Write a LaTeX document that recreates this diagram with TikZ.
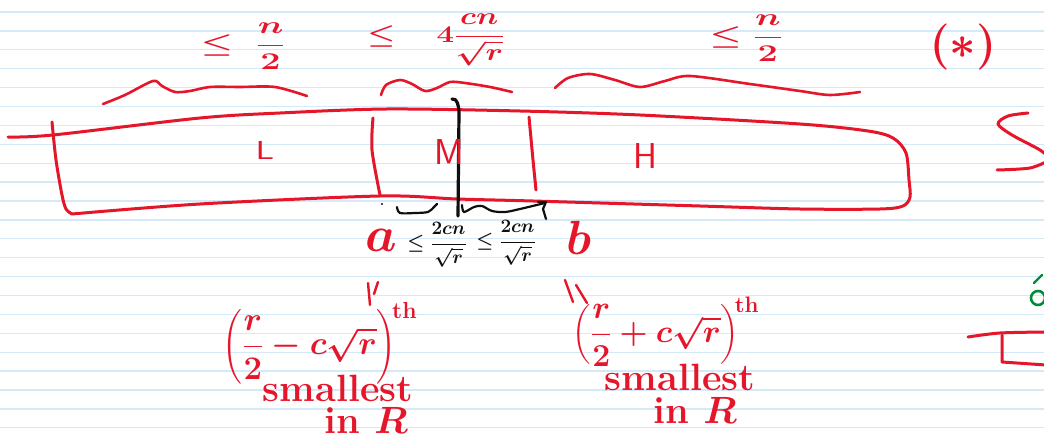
\documentclass[tikz,border=0pt]{standalone}
\usepackage{fix-cm}
\usepackage{amsmath}
\usepackage{fontspec}
\definecolor{ink}{RGB}{230,22,42}
\definecolor{ruleblue}{RGB}{212,234,249}
\definecolor{pen}{RGB}{15,15,15}
\definecolor{gpen}{RGB}{0,140,60}
\newcommand{\lowstrut}[1]{\rule[-#1]{0pt}{0pt}}
\begin{document}
\begin{tikzpicture}[x=1pt,y=-1pt,
  redpen/.style={draw=ink, line width=3pt, line cap=round, line join=round},
  blackpen/.style={draw=pen, line width=2.2pt, line cap=round, line join=round},
  redtext/.style={text=ink, inner sep=0pt},
  blacktext/.style={text=pen, inner sep=0pt}]
\useasboundingbox (0,0) rectangle (1044,443);
\fill[white] (0,0) rectangle (1044,443);
% ruled paper
\foreach \i in {0,...,22} {
  \draw[ruleblue, line width=1.3pt] (0,{12+18.9*\i}) -- (1044,{12+18.9*\i});
}
% main box
\draw[redpen] plot[smooth, tension=0.5] coordinates {(8,137) (53,135) (200,118) (280,113) (387,109) (520,111) (640,115) (800,124) (868,131) (893,138) (906,153) (909,180) (910,197) (903,206) (880,209) (800,209) (700,206) (533,201) (457,199) (380,196) (200,204) (72,214)};
\draw[redpen] plot[smooth, tension=0.5] coordinates {(52,122) (56,160) (62,195) (66,209) (72,214)};
% dividers
\draw[redpen] plot[smooth] coordinates {(373,118) (372,150) (380,195)};
\draw[redpen] plot[smooth] coordinates {(529,117) (533,160) (536,190)};
% black split line
\draw[blackpen, line width=3.2pt] (452,99) to[out=10,in=95] (459,112) -- (458,216);
% region labels
\node[redtext, font=\fontsize{26}{26}\selectfont\sffamily, xscale=1.4] (L) at (265,150) {L};
\node[redtext, font=\fontsize{36}{36}\selectfont\sffamily] (M) at (449,152) {M};
\node[redtext, font=\fontsize{36}{36}\selectfont\sffamily] (H) at (645,156) {H};
% braces above
\draw[redpen, line width=2.6pt] plot[smooth] coordinates {(103,104) (125,95) (153,81) (162,86) (175,92) (190,91) (210,87) (240,87) (275,87) (307,96)};
\draw[redpen, line width=2.6pt] plot[smooth] coordinates {(381,95) (386,85) (400,80) (412,84) (425,91) (437,88) (450,82) (465,83) (490,87) (512,92)};
\draw[redpen, line width=2.6pt] plot[smooth] coordinates {(555,88) (568,78) (590,74) (615,80) (640,87) (665,81) (690,76) (750,84) (800,91) (830,95) (860,92)};
% labels above braces
\node[redtext, font=\fontsize{24}{24}\selectfont\boldmath, xscale=1.5] (lbl) at (243,46) {$\le\; \dfrac{n}{2}$};
\node[redtext, font=\fontsize{24}{24}\selectfont\boldmath, xscale=1.3] (mbl) at (436,40) {$\le\quad 4\dfrac{cn\lowstrut{3pt}}{\sqrt{r}}$};
\node[redtext, font=\fontsize{24}{24}\selectfont\boldmath, xscale=1.5] (rbl) at (746,38) {$\le \dfrac{n}{2}$};
\node[redtext, font=\fontsize{46}{46}\selectfont\boldmath] (star) at (963,47) {$(*)$};
% cut-off S at the right edge
\draw[redpen] plot[smooth] coordinates {(1028,113) (1008,116) (998,124) (1012,135) (1040,150) (1052,160)};
\draw[redpen] plot[smooth] coordinates {(1050,160) (1030,168) (997,170)};
% small black braces below box
\fill[pen] (382,204) circle (1.2pt);
\draw[blackpen] plot[smooth] coordinates {(397,207) (400,213) (415,213) (428,212) (434,207) (437,204)};
\draw[blackpen] plot[smooth] coordinates {(462,205) (464,212) (474,207) (482,206) (492,211) (505,212) (520,209) (545,203)};
\draw[blackpen] (538,202) -- (546,202) -- (543,209);
\draw[blackpen] (543,209) -- (546,219);
\node[blacktext, font=\fontsize{19}{19}\selectfont\boldmath] (lb1) at (437,245) {$\le\dfrac{2cn\lowstrut{2pt}}{\sqrt{r}}$};
\node[blacktext, font=\fontsize{19}{19}\selectfont\boldmath] (lb2) at (506,243) {$\le\dfrac{2cn\lowstrut{2pt}}{\sqrt{r}}$};
% a and b
\node[redtext, font=\fontsize{50}{50}\selectfont\boldmath] (a) at (381,240) {$a$};
\node[redtext, font=\fontsize{48}{48}\selectfont\boldmath] (b) at (579,238) {$b$};
% relation marks
\draw[redpen, line width=2.4pt] (368,283) -- (370,305);
\draw[redpen, line width=2.4pt] (378,282) -- (374,294);
\draw[redpen, line width=2.4pt] (565,280) -- (573,302);
\draw[redpen, line width=2.4pt] (576,285) -- (587,303);
% bottom texts
\node[redtext, font=\fontsize{33}{33}\selectfont\boldmath] (low1) at (320,343)
  {$\left(\dfrac{r}{2}-c\sqrt{r}\right)^{\!\mathbf{th}}$};
\node[redtext, font=\fontsize{38}{38}\selectfont\bfseries] (low2) at (338,388) {smallest};
\node[redtext, font=\fontsize{38}{38}\selectfont\bfseries\boldmath] (low3) at (366,420) {in $R$};
\node[redtext, font=\fontsize{32}{32}\selectfont\boldmath] (high1) at (666,332)
  {$\left(\dfrac{r}{2}+c\sqrt{r}\right)^{\!\mathbf{th}}$};
\node[redtext, font=\fontsize{38}{38}\selectfont\bfseries] (high2) at (680,377) {smallest};
\node[redtext, font=\fontsize{38}{38}\selectfont\bfseries\boldmath] (high3) at (695,410) {in $R$};
% cut-off marks at the lower right
\draw[gpen, line width=2.6pt, line cap=round] (1038,298) circle (7pt);
\draw[gpen, line width=2.4pt, line cap=round] (1034,283) -- (1042,275);
\draw[redpen] plot[smooth] coordinates {(968,337) (1000,333) (1046,332)};
\draw[redpen] (1002,335) -- (1002,362) -- (1046,365);
\end{tikzpicture}
\end{document}
